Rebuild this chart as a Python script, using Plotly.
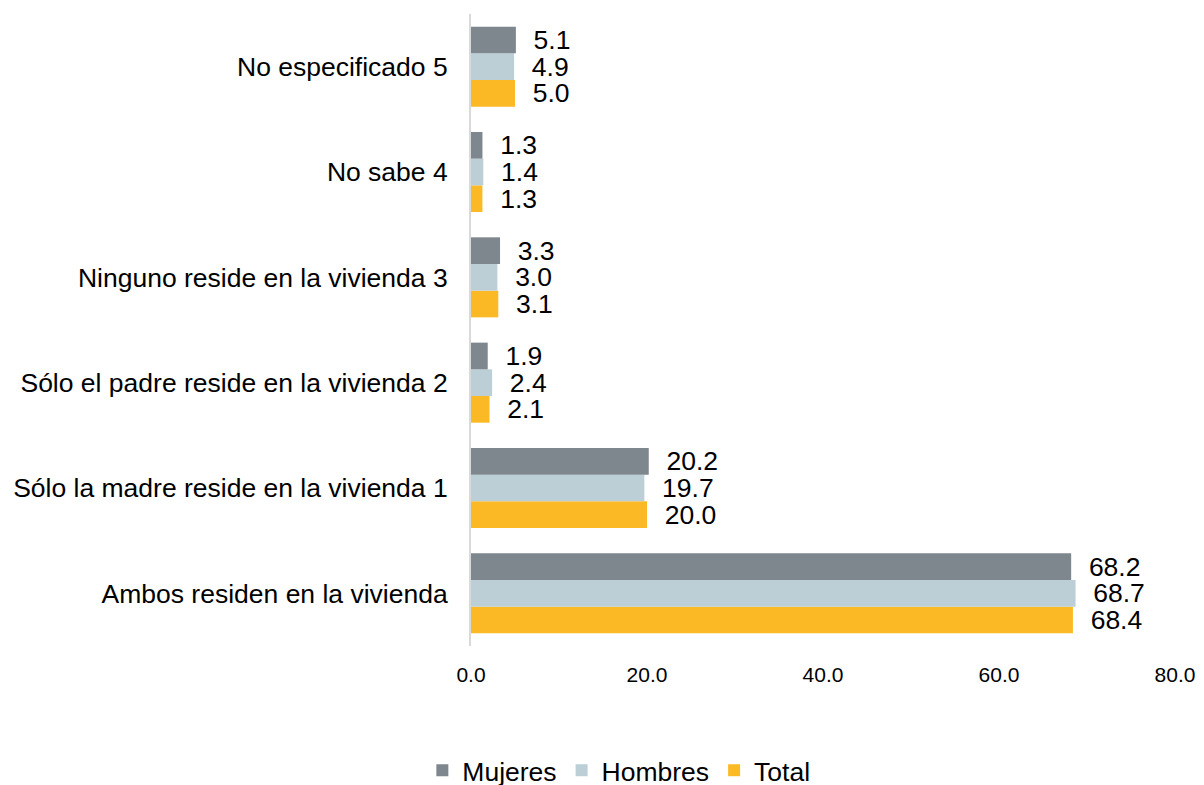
import plotly.graph_objects as go

categories = [
    "Ambos residen en la vivienda",
    "Sólo la madre reside en la vivienda 1",
    "Sólo el padre reside en la vivienda 2",
    "Ninguno reside en la vivienda 3",
    "No sabe 4",
    "No especificado 5",
]
mujeres = [68.2, 20.2, 1.9, 3.3, 1.3, 5.1]
hombres = [68.7, 19.7, 2.4, 3.0, 1.4, 4.9]
total = [68.4, 20.0, 2.1, 3.1, 1.3, 5.0]
x_ticks = [0, 20, 40, 60, 80]

FONT = "Liberation Sans, Arial, sans-serif"
FS = 26.5

# page body has an 8px margin: figure is sized/placed to compensate
fig = go.Figure()
for name, vals, color in [
    ("Total", total, "#FBBA25"),
    ("Hombres", hombres, "#BCCFD6"),
    ("Mujeres", mujeres, "#7E878D"),
]:
    fig.add_trace(go.Bar(
        y=categories, x=vals, name=name, orientation="h",
        marker=dict(color=color, line=dict(width=0)),
        text=[f"{v:.1f}" for v in vals],
        texttemplate="\u00a0\u00a0%{text}",
        textposition="outside", constraintext="none", cliponaxis=False,
        textfont=dict(size=FS, color="#000000", family=FONT),
    ))

fig.update_layout(
    width=1196, height=777,
    margin=dict(l=463, r=29, t=6, b=139, autoexpand=False),
    barmode="group", bargap=0.24, bargroupgap=0,
    paper_bgcolor="white", plot_bgcolor="white",
    font=dict(family=FONT, size=FS, color="#000000"),
    showlegend=True,
    legend=dict(
        orientation="h", traceorder="reversed",
        x=0.21, xanchor="center", y=-0.197, yanchor="middle",
        font=dict(size=FS), itemwidth=30,
    ),
    xaxis=dict(
        range=[0, 80], tickvals=x_ticks, ticktext=[f"{v:.1f}" for v in x_ticks],
        showgrid=False, zeroline=False, showline=False, automargin=False,
        ticks="", ticklabelstandoff=14,
        tickfont=dict(family=FONT, size=21),
    ),
    yaxis=dict(
        showgrid=False, zeroline=False, automargin=False,
        showline=True, linecolor="#D9D9D9", linewidth=2,
        ticks="", ticklabelstandoff=16,
    ),
)

fig.write_html("out.html")
